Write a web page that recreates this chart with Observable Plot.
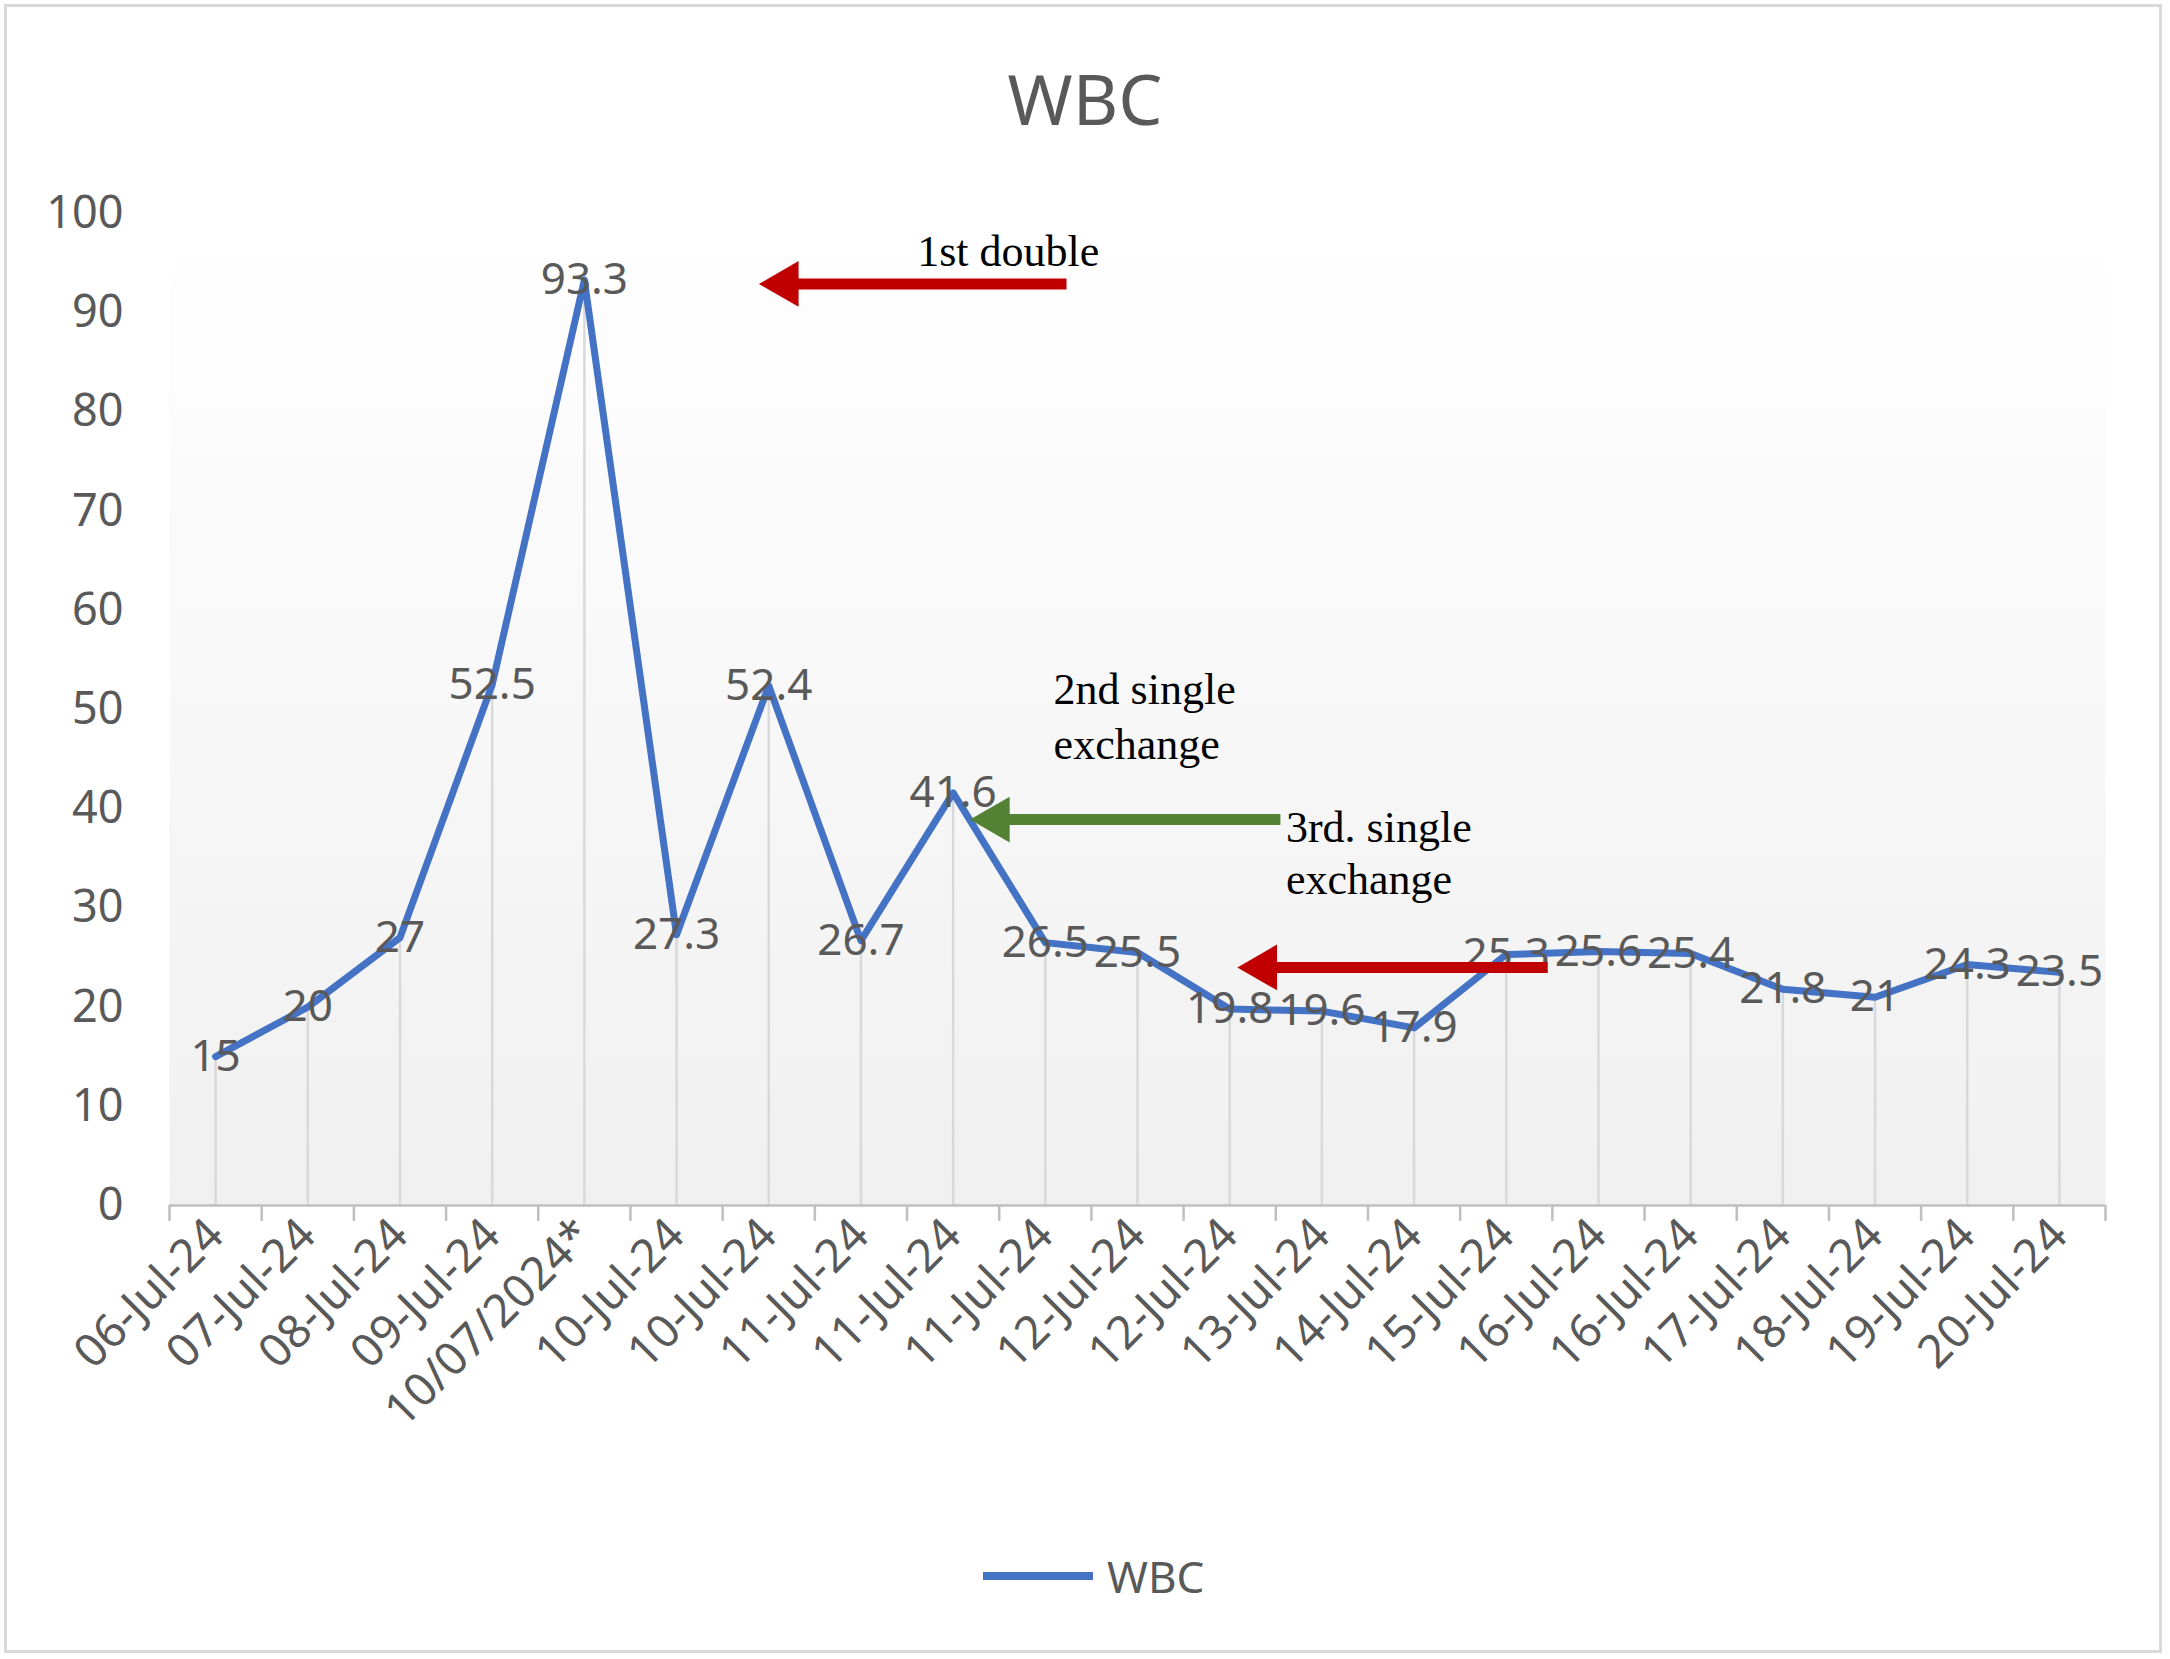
<!DOCTYPE html>
<html><head><meta charset="utf-8">
<script src="https://cdn.jsdelivr.net/npm/d3@7"></script>
<script src="https://cdn.jsdelivr.net/npm/@observablehq/plot@0.6"></script>
<style>
body{margin:0;background:#fff;font-family:"Noto Sans",sans-serif;}
#wrap{position:relative;width:2170px;height:1659px;}
#border{position:absolute;left:4px;top:4px;width:2158px;height:1649px;border:3px solid #d9d9d9;box-sizing:border-box;pointer-events:none;}
#title{position:absolute;left:0;width:2170px;top:50px;text-align:center;font-size:70px;color:#595959;}
#legend{position:absolute;top:1546px;left:983px;font-size:44px;color:#595959;display:flex;align-items:center;}
#legend span.l{display:inline-block;width:110px;height:8px;background:#4472C4;margin-right:14px;}
</style></head><body>
<div id="wrap"><div id="chart"></div><div id="title">WBC</div>
<div id="legend"><span class="l"></span>WBC</div><div id="border"></div></div>
<script>
const labels = ["06-Jul-24","07-Jul-24","08-Jul-24","09-Jul-24","10/07/2024*","10-Jul-24","10-Jul-24","11-Jul-24","11-Jul-24","11-Jul-24","12-Jul-24","12-Jul-24","13-Jul-24","14-Jul-24","15-Jul-24","16-Jul-24","16-Jul-24","17-Jul-24","18-Jul-24","19-Jul-24","20-Jul-24"];
const values = [15,20,27,52.5,93.3,27.3,52.4,26.7,41.6,26.5,25.5,19.8,19.6,17.9,25.3,25.6,25.4,21.8,21,24.3,23.5];
const arrows = [
  {x1:9.23,x2:5.96,y:92.9,color:"#C00000"},
  {x1:11.55,x2:8.25,y:38.9,color:"#548235"},
  {x1:14.45,x2:11.15,y:24,color:"#C00000"}
];
const notes = [
  {x:7.61,y:96.1,text:"1st double"},
  {x:9.09,y:52.0,text:"2nd single"},
  {x:9.09,y:46.4,text:"exchange"},
  {x:11.61,y:38.1,text:"3rd. single"},
  {x:11.61,y:32.8,text:"exchange"}
];
const data = values.map((v,i)=>({i,v}));
const idx = d3.range(labels.length);
const bounds = d3.range(labels.length+1).map(i=>i-0.5);
const plot = Plot.plot({
  width:2170,height:1659,
  marginTop:213,marginBottom:454,marginLeft:169,marginRight:65,
  style:{fontFamily:"Noto Sans",color:"#595959",background:"transparent"},
  x:{domain:[-0.5,20.5],axis:null},
  y:{domain:[0,100],axis:null},
  marks:[
    Plot.frame({fill:"#f2f2f2",stroke:null}),
    Plot.ruleX(data,{x:"i",y1:0,y2:"v",stroke:"#d9d9d9",strokeWidth:2.5}),
    Plot.ruleY([0],{stroke:"#bfbfbf",strokeWidth:2.5}),
    Plot.ruleX(bounds,{y1:0,y2:-1.6,stroke:"#bfbfbf",strokeWidth:2.5}),
    Plot.axisY({ticks:d3.range(0,101,10),tickSize:0,tickPadding:46,fontSize:45,label:null}),
    Plot.axisX(idx,{ticks:idx,tickFormat:i=>labels[i],tickRotate:-45,tickSize:0,tickPadding:22,fontSize:46,label:null}),
    Plot.line(data,{x:"i",y:"v",stroke:"#4472C4",strokeWidth:7,strokeLinejoin:"round"}),
    Plot.text(data,{x:"i",y:"v",text:d=>String(d.v),fontSize:44,fill:"#595959"}),
    Plot.link(arrows,{x1:"x1",x2:d=>d.x2+0.25,y1:"y",y2:"y",stroke:"color",strokeWidth:11}),
    Plot.dot(arrows,{x:d=>d.x2+0.22,y:"y",symbol:"triangle",r:17,rotate:-90,fill:"color",stroke:null}),
    Plot.text(notes,{x:"x",y:"y",text:"text",textAnchor:"start",fontSize:44,fontFamily:"Liberation Serif",fill:"#000"})
  ]
});
const svg = d3.select(plot);
const defs = svg.insert("defs",":first-child");
const g = defs.append("linearGradient").attr("id","bg").attr("x1",0).attr("x2",0).attr("y1",0).attr("y2",1);
g.append("stop").attr("offset","0%").attr("stop-color","#ffffff");
g.append("stop").attr("offset","100%").attr("stop-color","#f0f0f0");
svg.selectAll("[aria-label=frame] rect, rect[aria-label=frame]").attr("fill","url(#bg)");
document.getElementById("chart").appendChild(plot);
</script></body></html>
